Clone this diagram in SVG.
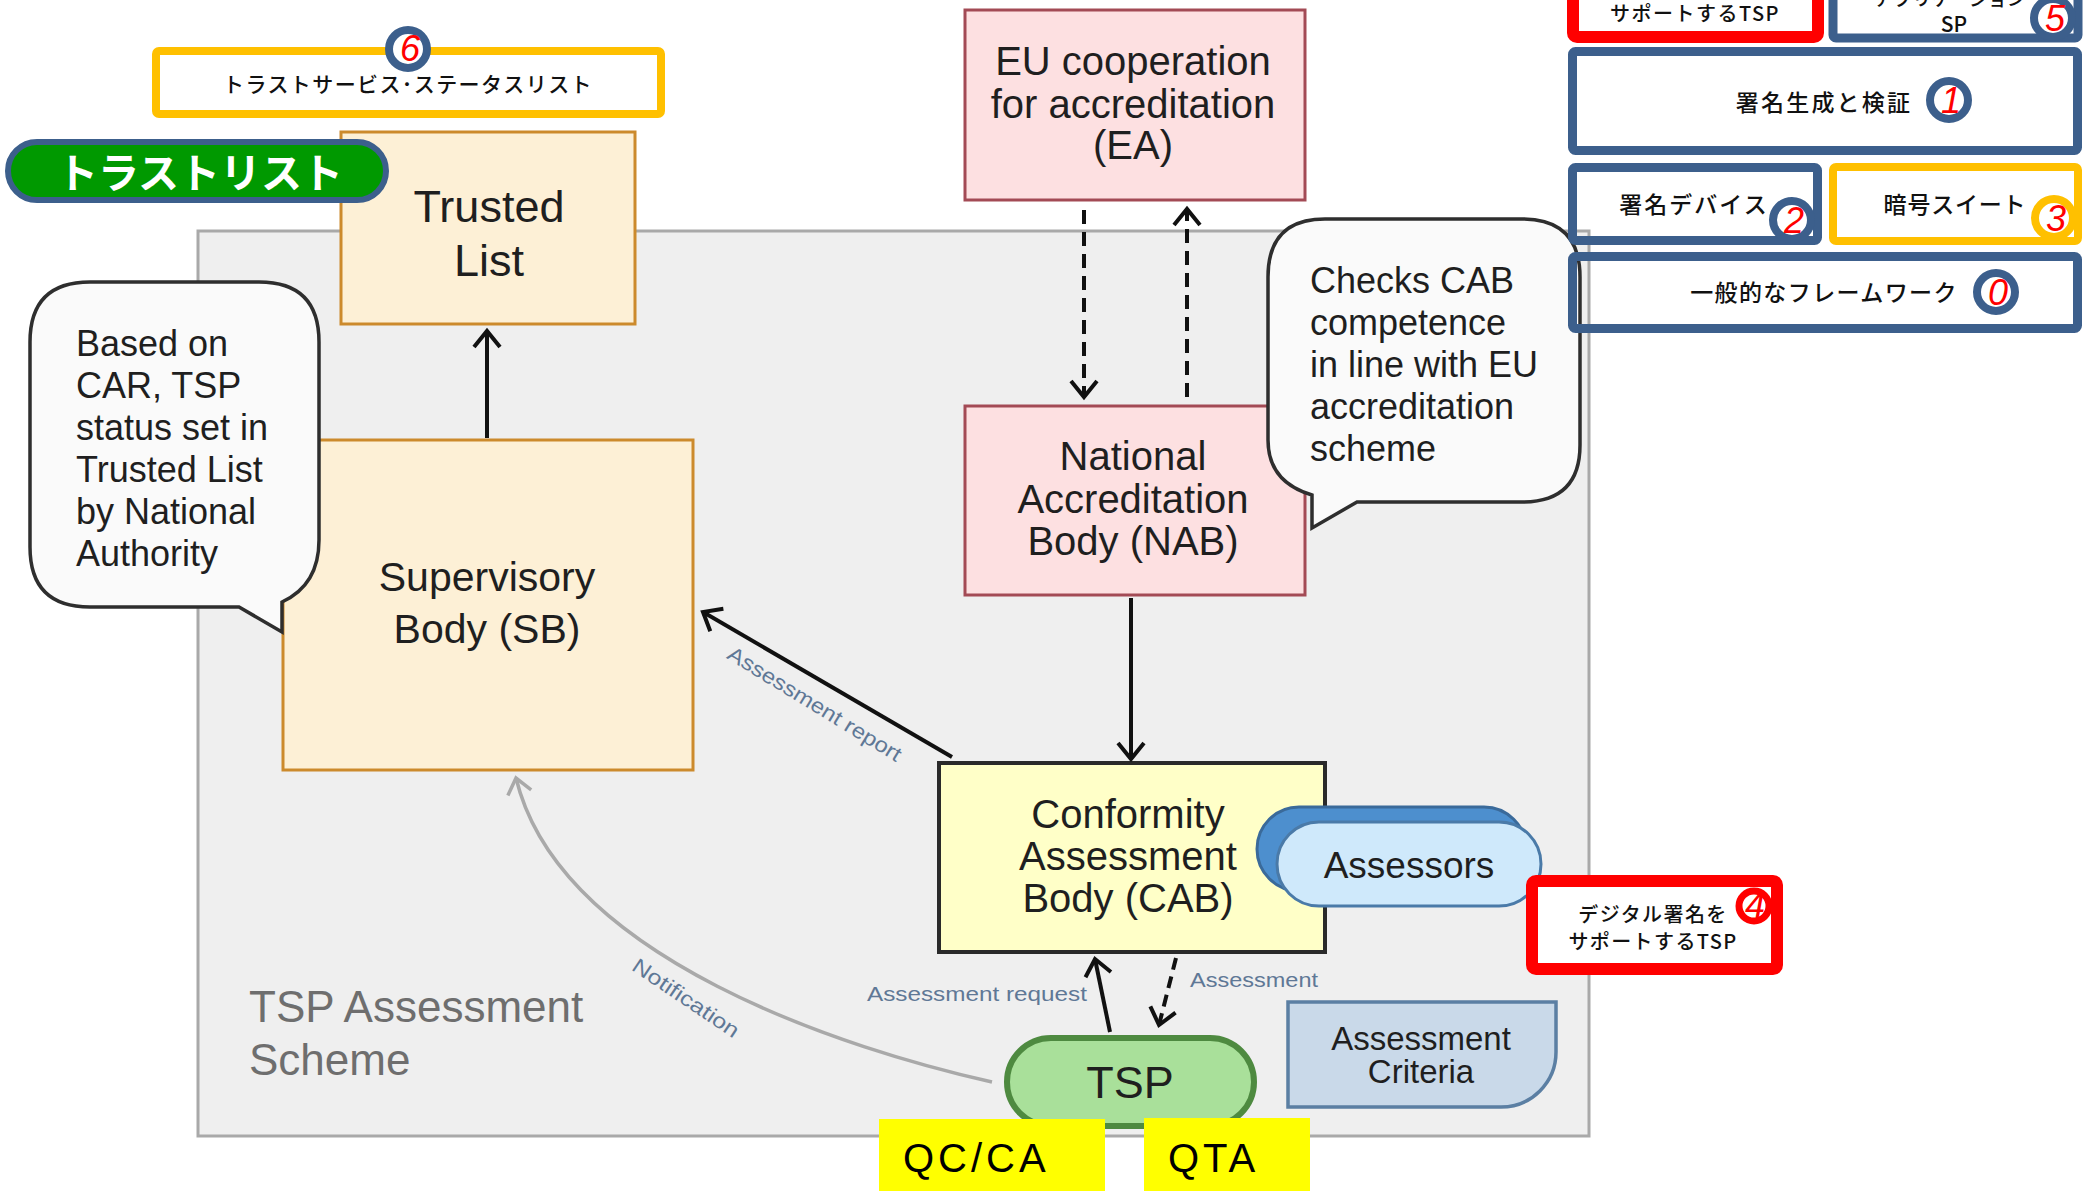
<svg xmlns="http://www.w3.org/2000/svg" width="2086" height="1191" viewBox="0 0 2086 1191">
<style>
  .en { font-family: "Liberation Sans", Arial, sans-serif; fill: #1f1f1f; }
  .jp { font-family: "Noto Sans CJK JP", "Noto Sans CJK SC", sans-serif; fill: #111; font-weight: 500; }
  .lbl { font-family: "Liberation Sans", Arial, sans-serif; fill: #5f7896; font-size: 21px; }
  .num { font-family: "Liberation Sans", Arial, sans-serif; font-style: italic; fill: #ff0000; font-size: 36px; text-anchor: middle; }
  .badge { fill: #ffffff; stroke: #3c5f8c; stroke-width: 8; }
  .bluebox { fill: none; stroke: #3c5f8c; stroke-width: 9; }
  .redbox { fill: #ffffff; stroke: #ff0000; stroke-width: 12; }
  .yelbox { fill: #ffffff; stroke: #ffc000; stroke-width: 8; }
  .pink { fill: #fde0e1; stroke: #a34a55; stroke-width: 3; }
  .peach { fill: #fdf0d6; stroke: #cc8a2c; stroke-width: 3; }
  .bubble { fill: #fafafa; stroke: #2e2e2e; stroke-width: 3.5; }
  .hl { fill: #ffff00; }
</style>
<defs>
  <marker id="ah" viewBox="-20 -17 26 34" refX="0" refY="0" markerWidth="26" markerHeight="34" markerUnits="userSpaceOnUse" orient="auto">
    <path d="M-16,-13 L0,0 L-16,13" fill="none" stroke="#111" stroke-width="4"/>
  </marker>
  <marker id="ahg" viewBox="-20 -17 26 34" refX="0" refY="0" markerWidth="26" markerHeight="34" markerUnits="userSpaceOnUse" orient="auto">
    <path d="M-15,-12 L0,0 L-15,12" fill="none" stroke="#a9a9a9" stroke-width="3.5"/>
  </marker>
</defs>

<rect width="2086" height="1191" fill="#ffffff"/>

<!-- scheme panel -->
<g id="scheme">
  <rect x="198" y="231" width="1391" height="905" fill="#efefef" stroke="#a9a9a9" stroke-width="3"/>
  <text class="en" x="249" y="1022" font-size="44" style="fill:#6e6e6e">TSP Assessment</text>
  <text class="en" x="249" y="1075" font-size="44" style="fill:#6e6e6e">Scheme</text>
</g>

<!-- EA -->
<g id="ea">
  <rect class="pink" x="965" y="10" width="340" height="190"/>
  <text class="en" x="1133" y="75" font-size="40" text-anchor="middle">EU cooperation</text>
  <text class="en" x="1133" y="118" font-size="40" text-anchor="middle">for accreditation</text>
  <text class="en" x="1133" y="159" font-size="40" text-anchor="middle">(EA)</text>
</g>

<!-- NAB -->
<g id="nab">
  <rect class="pink" x="965" y="406" width="340" height="189"/>
  <text class="en" x="1133" y="470" font-size="40" text-anchor="middle">National</text>
  <text class="en" x="1133" y="513" font-size="40" text-anchor="middle">Accreditation</text>
  <text class="en" x="1133" y="555" font-size="40" text-anchor="middle">Body (NAB)</text>
</g>

<!-- Trusted List -->
<g id="trusted-list">
  <rect class="peach" x="341" y="132" width="294" height="192"/>
  <text class="en" x="489" y="222" font-size="45" text-anchor="middle">Trusted</text>
  <text class="en" x="489" y="276" font-size="45" text-anchor="middle">List</text>
</g>

<!-- Supervisory Body -->
<g id="sb">
  <rect class="peach" x="283" y="440" width="410" height="330"/>
  <text class="en" x="487" y="591" font-size="41" text-anchor="middle">Supervisory</text>
  <text class="en" x="487" y="643" font-size="41" text-anchor="middle">Body (SB)</text>
</g>

<!-- CAB -->
<g id="cab">
  <rect x="939" y="763" width="386" height="189" fill="#ffffc8" stroke="#2a2a2a" stroke-width="4"/>
  <text class="en" x="1128" y="828" font-size="40" text-anchor="middle">Conformity</text>
  <text class="en" x="1128" y="870" font-size="40" text-anchor="middle">Assessment</text>
  <text class="en" x="1128" y="912" font-size="40" text-anchor="middle">Body (CAB)</text>
</g>

<!-- Assessors -->
<g id="assessors">
  <rect x="1257" y="807" width="269" height="84" rx="42" fill="#4d8fce" stroke="#3a6a9a" stroke-width="3"/>
  <rect x="1277" y="822" width="264" height="84" rx="42" fill="#cfe9fb" stroke="#4a7aa8" stroke-width="3"/>
  <text class="en" x="1409" y="878" font-size="37" text-anchor="middle">Assessors</text>
</g>

<!-- Assessment Criteria -->
<g id="criteria">
  <path d="M1288,1002 H1556 V1052 A55,55 0 0 1 1501,1107 H1288 Z" fill="#c9d9e9" stroke="#5b7fa3" stroke-width="3.5"/>
  <text class="en" x="1421" y="1050" font-size="33" text-anchor="middle">Assessment</text>
  <text class="en" x="1421" y="1083" font-size="33" text-anchor="middle">Criteria</text>
</g>

<!-- TSP -->
<g id="tsp">
  <rect x="1007" y="1038" width="247" height="88" rx="44" fill="#a9e09a" stroke="#4e8a40" stroke-width="6"/>
  <text class="en" x="1130" y="1098" font-size="45" text-anchor="middle">TSP</text>
</g>

<!-- callouts -->
<g id="note-tl">
  <path class="bubble" d="M90,282 H259 Q319,282 319,342 V540 Q319,585 282,602 V632 L239,607 H90 Q30,607 30,547 V342 Q30,282 90,282 Z"/>
  <g class="en" font-size="36">
    <text x="76" y="356">Based on</text>
    <text x="76" y="398">CAR, TSP</text>
    <text x="76" y="440">status set in</text>
    <text x="76" y="482">Trusted List</text>
    <text x="76" y="524">by National</text>
    <text x="76" y="566">Authority</text>
  </g>
</g>
<g id="note-nab">
  <path class="bubble" d="M1325,219 H1522 Q1580,219 1580,277 V445 Q1580,502 1522,502 H1357 L1312,528 V495 Q1268,482 1268,440 V277 Q1268,219 1325,219 Z"/>
  <g class="en" font-size="36">
    <text x="1310" y="293">Checks CAB</text>
    <text x="1310" y="335">competence</text>
    <text x="1310" y="377">in line with EU</text>
    <text x="1310" y="419">accreditation</text>
    <text x="1310" y="461">scheme</text>
  </g>
</g>

<!-- connectors -->
<g id="connectors" fill="none" stroke="#111" stroke-width="4">
  <path d="M487,438 V331" marker-end="url(#ah)"/>
  <path d="M1084,210 V397" stroke-dasharray="14 8" marker-end="url(#ah)"/>
  <path d="M1187,397 V209" stroke-dasharray="14 8" marker-end="url(#ah)"/>
  <path d="M1131,598 V759" marker-end="url(#ah)"/>
  <path d="M952,757 L703,612" marker-end="url(#ah)"/>
  <path d="M1110,1032 L1095,959" marker-end="url(#ah)"/>
  <path d="M1176,958 L1159,1025" stroke-dasharray="12 7" marker-end="url(#ah)"/>
  <path d="M992,1082 C850,1050 560,960 516,778" stroke="#a9a9a9" stroke-width="3.5" marker-end="url(#ahg)"/>
  <g stroke="none">
    <text class="lbl" transform="translate(811,710) rotate(31.5)" text-anchor="middle" textLength="200" lengthAdjust="spacingAndGlyphs">Assessment report</text>
    <text class="lbl" transform="translate(682,1004) rotate(34)" text-anchor="middle" textLength="124" lengthAdjust="spacingAndGlyphs">Notification</text>
    <text class="lbl" x="867" y="1001" textLength="220" lengthAdjust="spacingAndGlyphs">Assessment request</text>
    <text class="lbl" x="1190" y="987" textLength="128" lengthAdjust="spacingAndGlyphs">Assessment</text>
  </g>
</g>

<!-- service type tags -->
<g id="tag-qcca">
  <rect class="hl" x="879" y="1119" width="226" height="72"/>
  <text class="en" x="903" y="1172" font-size="40" letter-spacing="4" style="fill:#000">QC/CA</text>
</g>
<g id="tag-qta">
  <rect class="hl" x="1144" y="1118" width="166" height="73"/>
  <text class="en" x="1168" y="1172" font-size="40" letter-spacing="4" style="fill:#000">QTA</text>
</g>

<!-- Japanese title badge -->
<g id="title-trustlist">
  <rect x="8" y="142" width="378" height="58" rx="29" fill="#009900" stroke="#3c5f8c" stroke-width="6"/>
  <text class="jp" x="200" y="188" font-size="41" font-weight="bold" text-anchor="middle" style="fill:#ffffff;font-weight:bold">トラストリスト</text>
</g>

<!-- category 6 -->
<g id="cat-6">
  <rect class="yelbox" x="156" y="51" width="505" height="63" rx="3"/>
  <text class="jp" x="408" y="92" font-size="21" letter-spacing="1.4" text-anchor="middle">トラストサービス･ステータスリスト</text>
  <circle class="badge" cx="408" cy="49" r="19"/>
  <text class="num" x="410" y="61" font-size="32">6</text>
</g>

<!-- category: TSP (top, partly cut) -->
<g id="cat-tsp-top">
  <rect class="redbox" x="1573" y="-20" width="245" height="57" rx="4"/>
  <text class="jp" x="1695" y="21" font-size="20" letter-spacing="1.5" text-anchor="middle">サポートするTSP</text>
</g>

<!-- category 5 -->
<g id="cat-5">
  <rect class="bluebox" x="1833" y="-20" width="245" height="58" rx="3"/>
  <text class="jp" x="1950" y="6" font-size="19" text-anchor="middle">アプリケーション</text>
  <text class="jp" x="1954" y="32" font-size="21" text-anchor="middle">SP</text>
  <circle class="badge" cx="2053" cy="18" r="19"/>
  <text class="num" x="2055" y="31">5</text>
</g>

<!-- category 1 -->
<g id="cat-1">
  <rect class="bluebox" x="1572.5" y="51.5" width="505" height="99" rx="3"/>
  <text class="jp" x="1824" y="111" font-size="23" letter-spacing="2.2" text-anchor="middle">署名生成と検証</text>
  <circle class="badge" cx="1949" cy="100" r="19"/>
  <text class="num" x="1951" y="113">1</text>
</g>

<!-- category 2 -->
<g id="cat-2">
  <rect class="bluebox" x="1572.5" y="167.5" width="245" height="73" rx="3"/>
  <text class="jp" x="1694" y="213" font-size="23" letter-spacing="2" text-anchor="middle">署名デバイス</text>
  <circle class="badge" cx="1792" cy="220" r="19"/>
  <text class="num" x="1794" y="233">2</text>
</g>

<!-- category 3 -->
<g id="cat-3">
  <rect class="yelbox" x="1833" y="167" width="245" height="74" rx="3"/>
  <text class="jp" x="1955" y="213" font-size="23" letter-spacing="0.8" text-anchor="middle">暗号スイート</text>
  <circle class="badge" cx="2054" cy="218" r="19" style="stroke:#ffc000"/>
  <text class="num" x="2056" y="231">3</text>
</g>

<!-- category 0 -->
<g id="cat-0">
  <rect class="bluebox" x="1572.5" y="256.5" width="505" height="72" rx="3"/>
  <text class="jp" x="1824" y="301" font-size="23" letter-spacing="1.4" text-anchor="middle">一般的なフレームワーク</text>
  <circle class="badge" cx="1996" cy="292" r="19"/>
  <text class="num" x="1998" y="305">0</text>
</g>

<!-- category 4 -->
<g id="cat-4">
  <rect class="redbox" x="1532" y="881" width="245" height="88" rx="4"/>
  <text class="jp" x="1653" y="922" font-size="20" letter-spacing="1.4" text-anchor="middle">デジタル署名を</text>
  <text class="jp" x="1653" y="949" font-size="20" letter-spacing="1.4" text-anchor="middle">サポートするTSP</text>
  <circle cx="1754" cy="906" r="15" fill="#ffffff" stroke="#ff0000" stroke-width="7"/>
  <text class="num" x="1755" y="918" font-size="32">4</text>
</g>
</svg>
